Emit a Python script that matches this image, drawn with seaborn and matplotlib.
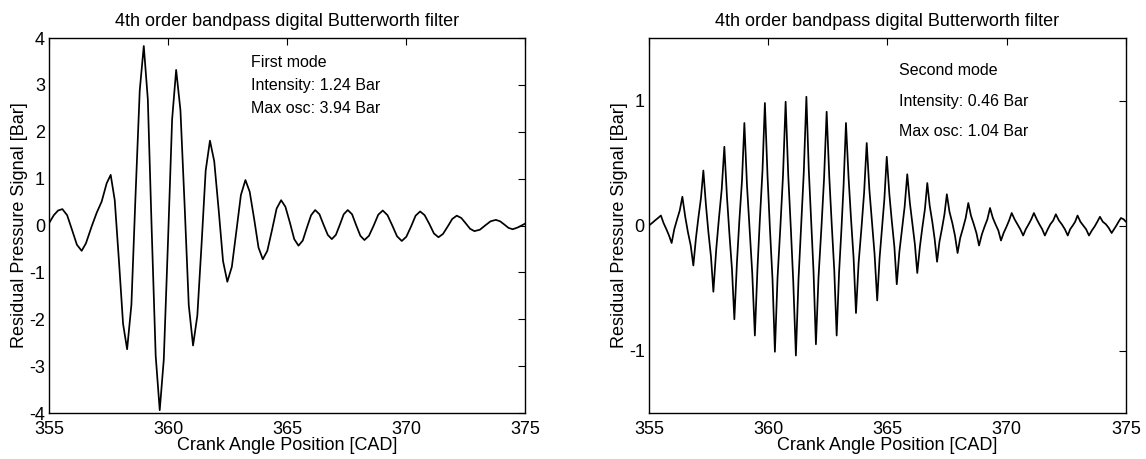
import matplotlib
matplotlib.use("Agg")
import matplotlib.pyplot as plt
import seaborn as sns

# ---------------- data ----------------
title_text = "4th order bandpass digital Butterworth filter"
x_label = "Crank Angle Position [CAD]"
y_label = "Residual Pressure Signal [Bar]"
x_ticks = [355, 360, 365, 370, 375]
left_yticks = [-4, -3, -2, -1, 0, 1, 2, 3, 4]
right_yticks = [-1, 0, 1]

left_notes = ["First mode", "Intensity: 1.24 Bar", "Max osc: 3.94 Bar"]
right_notes = ["Second mode", "Intensity: 0.46 Bar", "Max osc: 1.04 Bar"]

# First mode signal (crank angle, residual pressure)
first_cad = [
    355.00, 355.20, 355.38, 355.56, 355.76, 355.97, 356.17, 356.37, 356.55, 356.79,
    357.00, 357.21, 357.42, 357.59, 357.76, 357.94, 358.11, 358.28, 358.46, 358.63,
    358.81, 358.98, 359.15, 359.31, 359.48, 359.65, 359.82, 360.00, 360.17, 360.34,
    360.52, 360.70, 360.87, 361.05, 361.23, 361.41, 361.58, 361.76, 361.94, 362.13,
    362.31, 362.49, 362.68, 362.87, 363.06, 363.25, 363.43, 363.62, 363.80, 363.98,
    364.17, 364.37, 364.56, 364.75, 364.93, 365.12, 365.30, 365.48, 365.66, 365.83,
    366.01, 366.18, 366.36, 366.53, 366.71, 366.88, 367.05, 367.22, 367.38, 367.55,
    367.73, 367.90, 368.08, 368.25, 368.44, 368.64, 368.83, 369.02, 369.22, 369.42,
    369.62, 369.82, 370.01, 370.21, 370.40, 370.59, 370.78, 370.98, 371.17, 371.36,
    371.55, 371.75, 371.94, 372.13, 372.32, 372.50, 372.69, 372.87, 373.10, 373.32,
    373.55, 373.77, 373.95, 374.13, 374.30, 374.48, 374.70, 375.00,
]
first_bar = [
    0.05, 0.22, 0.32, 0.35, 0.22, -0.10, -0.41, -0.54, -0.38, -0.02,
    0.27, 0.51, 0.90, 1.08, 0.54, -0.78, -2.10, -2.64, -1.69, 0.60,
    2.88, 3.83, 2.69, -0.05, -2.78, -3.94, -2.86, -0.30, 2.26, 3.32,
    2.46, 0.38, -1.70, -2.56, -1.92, -0.38, 1.17, 1.81, 1.37, 0.31,
    -0.76, -1.20, -0.88, -0.12, 0.65, 0.97, 0.72, 0.13, -0.47, -0.72,
    -0.54, -0.09, 0.36, 0.54, 0.40, 0.06, -0.29, -0.43, -0.32, -0.05,
    0.22, 0.33, 0.24, 0.02, -0.20, -0.29, -0.20, 0.02, 0.24, 0.33,
    0.24, 0.01, -0.22, -0.31, -0.22, 0.00, 0.23, 0.32, 0.22, 0.00,
    -0.23, -0.33, -0.24, -0.02, 0.21, 0.30, 0.22, 0.03, -0.17, -0.25,
    -0.18, -0.02, 0.14, 0.21, 0.16, 0.05, -0.07, -0.12, -0.09, 0.00,
    0.09, 0.12, 0.09, 0.02, -0.05, -0.08, -0.04, 0.04,
]

# Second mode signal (crank angle, residual pressure)
second_cad = [
    355.00, 355.13, 355.25, 355.38, 355.50, 355.61, 355.73, 355.84, 355.95, 356.06,
    356.18, 356.29, 356.40, 356.52, 356.63, 356.75, 356.86, 356.97, 357.07, 357.18,
    357.28, 357.39, 357.49, 357.60, 357.70, 357.82, 357.93, 358.05, 358.16, 358.27,
    358.37, 358.48, 358.58, 358.69, 358.79, 358.90, 359.00, 359.11, 359.22, 359.33,
    359.44, 359.55, 359.65, 359.76, 359.86, 359.97, 360.07, 360.18, 360.28, 360.39,
    360.51, 360.62, 360.73, 360.84, 360.95, 361.05, 361.16, 361.27, 361.38, 361.49,
    361.60, 361.70, 361.80, 361.90, 362.00, 362.11, 362.23, 362.34, 362.45, 362.56,
    362.66, 362.77, 362.87, 362.97, 363.07, 363.16, 363.26, 363.37, 363.47, 363.58,
    363.68, 363.79, 363.91, 364.02, 364.13, 364.24, 364.35, 364.46, 364.57, 364.67,
    364.77, 364.87, 364.97, 365.08, 365.18, 365.29, 365.39, 365.50, 365.61, 365.72,
    365.83, 365.94, 366.04, 366.15, 366.25, 366.36, 366.46, 366.57, 366.67, 366.77,
    366.88, 366.98, 367.08, 367.18, 367.29, 367.39, 367.49, 367.60, 367.72, 367.83,
    367.94, 368.05, 368.17, 368.28, 368.39, 368.50, 368.62, 368.73, 368.84, 368.96,
    369.07, 369.19, 369.30, 369.42, 369.53, 369.65, 369.76, 369.87, 369.99, 370.10,
    370.21, 370.33, 370.45, 370.57, 370.69, 370.80, 370.92, 371.03, 371.14, 371.26,
    371.37, 371.49, 371.60, 371.72, 371.83, 371.95, 372.06, 372.19, 372.31, 372.44,
    372.56, 372.66, 372.77, 372.87, 372.97, 373.09, 373.21, 373.33, 373.45, 373.57,
    373.68, 373.80, 373.91, 374.03, 374.16, 374.28, 374.40, 374.50, 374.60, 374.69,
    374.79, 374.90, 375.00,
]
second_bar = [
    0.00, 0.02, 0.04, 0.06, 0.08, 0.02, -0.03, -0.08, -0.14, -0.03,
    0.05, 0.12, 0.23, 0.07, -0.05, -0.16, -0.32, -0.10, 0.06, 0.22,
    0.44, 0.16, -0.05, -0.25, -0.53, -0.19, 0.05, 0.29, 0.63, 0.23,
    -0.06, -0.35, -0.75, -0.29, 0.04, 0.36, 0.82, 0.32, -0.03, -0.38,
    -0.88, -0.34, 0.05, 0.44, 0.98, 0.40, -0.02, -0.43, -1.01, -0.42,
    -0.01, 0.40, 0.99, 0.40, -0.03, -0.45, -1.04, -0.43, -0.01, 0.42,
    1.03, 0.45, 0.04, -0.37, -0.95, -0.41, -0.02, 0.37, 0.91, 0.39,
    0.02, -0.36, -0.88, -0.38, -0.03, 0.32, 0.82, 0.38, 0.06, -0.26,
    -0.70, -0.30, -0.02, 0.26, 0.66, 0.29, 0.03, -0.23, -0.60, -0.26,
    -0.03, 0.21, 0.55, 0.25, 0.04, -0.17, -0.47, -0.21, -0.03, 0.15,
    0.41, 0.18, 0.02, -0.15, -0.38, -0.17, -0.02, 0.13, 0.34, 0.16,
    0.03, -0.11, -0.29, -0.13, -0.02, 0.09, 0.25, 0.11, 0.02, -0.08,
    -0.22, -0.10, -0.02, 0.06, 0.18, 0.08, 0.01, -0.06, -0.16, -0.07,
    -0.01, 0.05, 0.14, 0.06, 0.01, -0.04, -0.12, -0.06, -0.01, 0.04,
    0.10, 0.05, 0.01, -0.03, -0.08, -0.03, 0.01, 0.05, 0.10, 0.05,
    0.01, -0.03, -0.08, -0.03, 0.01, 0.04, 0.09, 0.04, 0.01, -0.03,
    -0.08, -0.03, 0.00, 0.03, 0.08, 0.03, 0.00, -0.03, -0.08, -0.04,
    -0.01, 0.03, 0.07, 0.03, 0.01, -0.02, -0.06, -0.03, 0.00, 0.03,
    0.06, 0.05, 0.03,
]

# ---------------- styling ----------------
sns.set_style("white")
plt.rcParams["font.family"] = ["Liberation Sans", "DejaVu Sans"]
plt.rcParams["axes.unicode_minus"] = False

fig = plt.figure(figsize=(11.46, 4.59), dpi=100)
fig.patch.set_facecolor("white")
ax1 = fig.add_axes([0.0428, 0.1002, 0.4154, 0.817])
ax2 = fig.add_axes([0.5663, 0.1002, 0.4162, 0.817])

panels = [
    (ax1, first_cad, first_bar, left_yticks, (-4, 4), left_notes,
     363.47, [3.48, 2.98, 2.49]),
    (ax2, second_cad, second_bar, right_yticks, (-1.5, 1.5), right_notes,
     365.49, [1.244, 0.995, 0.755]),
]

for ax, xs, ys, yt, ylim, notes, nx, nys in panels:
    sns.lineplot(x=xs, y=ys, ax=ax, color="black", linewidth=1.25,
                 estimator=None, sort=False)
    ax.set_xlim(355, 375)
    ax.set_ylim(*ylim)
    ax.set_xticks(x_ticks)
    ax.set_yticks(yt)
    ax.set_xticklabels([str(t) for t in x_ticks])
    ax.set_yticklabels([str(t) for t in yt])
    ax.tick_params(direction="in", top=True, right=True, length=5, width=0.8,
                   labelsize=13, color="black", labelcolor="black")
    ax.tick_params(axis="x", pad=6)
    ax.tick_params(axis="y", pad=3)
    for s in ax.spines.values():
        s.set_color("black")
        s.set_linewidth(1.0)
        s.set_visible(True)
    ax.set_title(title_text, fontsize=13, pad=9, color="black")
    ax.set_xlabel(x_label, fontsize=13, labelpad=-1, color="black")
    ax.set_ylabel(y_label, fontsize=13, labelpad=1, color="black")
    for txt, ny in zip(notes, nys):
        ax.text(nx, ny, txt, fontsize=11.5, va="center", ha="left", color="black")

fig.savefig("out.png", dpi=100, facecolor="white")
